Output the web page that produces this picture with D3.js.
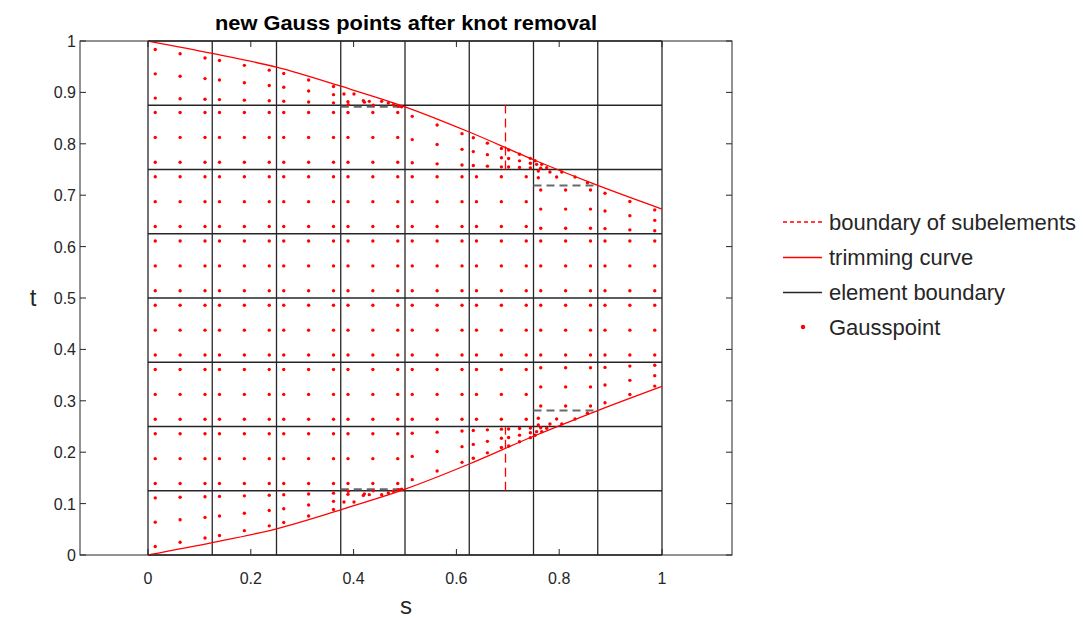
<!DOCTYPE html>
<html>
<head>
<meta charset="utf-8">
<script src="https://d3js.org/d3.v7.min.js"></script>
<style>
  html, body { margin: 0; padding: 0; background: #fff; }
  svg { display: block; font-family: "Liberation Sans", Arial, sans-serif; }
</style>
</head>
<body>
<svg id="chart" width="1083" height="619"></svg>
<script>
// knot vectors in s and t (element boundaries)
const knots = [0, 0.125, 0.25, 0.375, 0.5, 0.625, 0.75, 0.875, 1];

// Gauss abscissae along one parameter direction, three per knot span
const gaussLine = [0.0141, 0.0625, 0.1109, 0.1391, 0.1875, 0.2359, 0.2641, 0.3125, 0.3609,
                   0.3891, 0.4375, 0.4859, 0.5141, 0.5625, 0.6109, 0.6391, 0.6875, 0.7359,
                   0.7641, 0.8125, 0.8609, 0.8891, 0.9375, 0.9859];

// untrimmed elements: for each element row (bottom to top) the first and last element column
const fullElements = [null, [0, 3], [0, 5], [0, 7], [0, 7], [0, 5], [0, 3], null];

// trimming curves t(s) sampled at the knots
const lowerCurveT = [0, 0.024, 0.051, 0.088, 0.128, 0.177, 0.231, 0.281, 0.328];
const upperCurveT = [1, 0.976, 0.949, 0.912, 0.872, 0.823, 0.769, 0.719, 0.673];

// Gauss points of trimmed elements / sub-elements along the lower curve
const lowerTrimPoints = [
  [.0141,.0165],[.0141,.0639],[.0141,.1111],[.0625,.0247],[.0625,.0685],[.0625,.1123],[.1109,.0330],[.1109,.0732],[.1109,.1133],
  [.1391,.0380],[.1391,.0760],[.1391,.1140],[.1875,.0474],[.1875,.0813],[.1875,.1151],[.2359,.0567],[.2359,.0865],[.2359,.1163],
  [.2641,.0631],[.2641,.0901],[.2641,.1171],[.3125,.0758],[.3125,.0973],[.3125,.1187],[.3609,.0884],[.3609,.1044],[.3609,.1203],
  [.3813,.1031],[.4008,.1031],[.3897,.1239],[.3890,.1180],[.4190,.1160],[.4210,.1190],[.4305,.1174],[.4383,.1251],[.4546,.1174],
  [.4676,.1206],[.4773,.1239],[.4870,.1270],[.4935,.1280],
  [.5141,.1466],[.5141,.1918],[.5141,.2369],[.5625,.1635],[.5625,.2013],[.5625,.2390],[.6109,.1803],[.6109,.2108],[.6109,.2412],
  [.6329,.1882],[.6329,.2152],[.6329,.2422],[.6603,.1987],[.6603,.2211],[.6603,.2435],[.6876,.2092],[.6876,.2270],[.6876,.2448],
  [.7016,.2120],[.7016,.2286],[.7016,.2452],[.7228,.2202],[.7228,.2332],[.7228,.2462],[.7439,.2283],[.7439,.2378],[.7439,.2472],
  [.7530,.2330],[.7560,.2400],[.7594,.2530],[.7594,.2660],[.7640,.2477],[.7660,.2400],[.7757,.2465],[.7820,.2550],[.7950,.2646],
  [.8050,.2549],[.8307,.2646],[.8550,.2757],
  [.7641,.2898],[.7641,.3270],[.7641,.3642],[.8125,.2898],[.8125,.3270],[.8125,.3642],[.8609,.2898],[.8609,.3270],[.8609,.3642],
  [.8891,.2963],[.8891,.3307],[.8891,.3650],[.9375,.3124],[.9375,.3398],[.9375,.3675],[.9859,.3286],[.9859,.3489],[.9859,.3691]
];

// Gauss points of trimmed elements / sub-elements along the upper curve
const upperTrimPoints = [
  [.0141,.9835],[.0141,.9361],[.0141,.8889],[.0625,.9753],[.0625,.9315],[.0625,.8877],[.1109,.9670],[.1109,.9268],[.1109,.8867],
  [.1391,.9620],[.1391,.9240],[.1391,.8860],[.1875,.9526],[.1875,.9187],[.1875,.8849],[.2359,.9433],[.2359,.9135],[.2359,.8837],
  [.2641,.9369],[.2641,.9099],[.2641,.8829],[.3125,.9242],[.3125,.9027],[.3125,.8813],[.3609,.9116],[.3609,.8956],[.3609,.8797],
  [.3813,.8969],[.4008,.8969],[.3897,.8761],[.3890,.8820],[.4190,.8840],[.4210,.8810],[.4305,.8826],[.4383,.8749],[.4546,.8826],
  [.4676,.8794],[.4773,.8761],[.4870,.8730],[.4935,.8720],
  [.5141,.8534],[.5141,.8082],[.5141,.7631],[.5625,.8365],[.5625,.7987],[.5625,.7610],[.6109,.8197],[.6109,.7892],[.6109,.7588],
  [.6329,.8118],[.6329,.7848],[.6329,.7578],[.6603,.8013],[.6603,.7789],[.6603,.7565],[.6876,.7908],[.6876,.7730],[.6876,.7552],
  [.7016,.7880],[.7016,.7714],[.7016,.7548],[.7228,.7798],[.7228,.7668],[.7228,.7538],[.7439,.7717],[.7439,.7622],[.7439,.7528],
  [.7530,.7670],[.7560,.7600],[.7594,.7470],[.7594,.7340],[.7640,.7523],[.7660,.7600],[.7757,.7535],[.7820,.7450],[.7950,.7354],
  [.8050,.7451],[.8307,.7354],[.8550,.7243],
  [.7641,.7102],[.7641,.6730],[.7641,.6358],[.8125,.7102],[.8125,.6730],[.8125,.6358],[.8609,.7102],[.8609,.6730],[.8609,.6358],
  [.8891,.7037],[.8891,.6693],[.8891,.6350],[.9375,.6876],[.9375,.6602],[.9375,.6325],[.9859,.6714],[.9859,.6511],[.9859,.6309]
];

// sub-element boundaries (red dashed) and removed-knot lines (grey dashed)
const subBoundaries = [
  [[0.6955, 0.125], [0.6955, 0.25]],
  [[0.6955, 0.75], [0.6955, 0.875]]
];
const removedKnotLines = [
  [[0.375, 0.128], [0.5, 0.128]],
  [[0.375, 0.872], [0.5, 0.872]],
  [[0.75, 0.281], [0.875, 0.281]],
  [[0.75, 0.719], [0.875, 0.719]]
];

const xTicks = [0, 0.2, 0.4, 0.6, 0.8, 1];
const yTicks = [0, 0.1, 0.2, 0.3, 0.4, 0.5, 0.6, 0.7, 0.8, 0.9, 1];
const legendItems = ["boundary of subelements", "trimming curve", "element boundary", "Gausspoint"];

const titleText = "new Gauss points after knot removal";
const axisColor = "#262626";
const red = "#ff0000";

const svg = d3.select("#chart");
const box = { left: 80, right: 732, top: 41, bottom: 555 };

const x = d3.scaleLinear().domain([-0.1323, 1.1362]).range([box.left, box.right]);
const y = d3.scaleLinear().domain([0, 1]).range([box.bottom, box.top]);

const plot = svg.append("g");

// element boundaries
const gridColor = "#262626";
plot.append("g").selectAll("line").data(knots).join("line")
  .attr("x1", d => x(d)).attr("x2", d => x(d))
  .attr("y1", y(0)).attr("y2", y(1))
  .attr("stroke", gridColor).attr("stroke-width", 1.3);
plot.append("g").selectAll("line").data(knots).join("line")
  .attr("y1", d => y(d)).attr("y2", d => y(d))
  .attr("x1", x(0)).attr("x2", x(1))
  .attr("stroke", gridColor).attr("stroke-width", 1.3);

// lines of the removed knots
const seg = d3.line().x(d => x(d[0])).y(d => y(d[1]));
plot.append("g").selectAll("path").data(removedKnotLines).join("path")
  .attr("d", seg).attr("fill", "none")
  .attr("stroke", "#6a6a6a").attr("stroke-width", 2).attr("stroke-dasharray", "8,5");

// Gauss points: untrimmed elements, then trimmed ones
const gaussPoints = [];
fullElements.forEach((range, r) => {
  if (!range) return;
  for (let c = range[0]; c <= range[1]; c++) {
    for (let i = 0; i < 3; i++) {
      for (let j = 0; j < 3; j++) {
        gaussPoints.push([gaussLine[3 * c + i], gaussLine[3 * r + j]]);
      }
    }
  }
});
lowerTrimPoints.forEach(p => gaussPoints.push(p));
upperTrimPoints.forEach(p => gaussPoints.push(p));

plot.append("g").selectAll("circle").data(gaussPoints).join("circle")
  .attr("cx", d => x(d[0])).attr("cy", d => y(d[1]))
  .attr("r", 1.7).attr("fill", red);

// trimming curves
const curveLine = d3.line().x(d => x(d[0])).y(d => y(d[1])).curve(d3.curveMonotoneX);
[lowerCurveT, upperCurveT].forEach(ts => {
  plot.append("path")
    .datum(knots.map((s, i) => [s, ts[i]]))
    .attr("d", curveLine).attr("fill", "none")
    .attr("stroke", red).attr("stroke-width", 1.3);
});

// sub-element boundaries
plot.append("g").selectAll("path").data(subBoundaries).join("path")
  .attr("d", seg).attr("fill", "none")
  .style("stroke", red).attr("stroke-width", 1.3).attr("stroke-dasharray", "9,5");

// axes box with inward ticks
const axes = svg.append("g").attr("fill", "none").attr("stroke", axisColor).attr("stroke-width", 1);
axes.append("rect")
  .attr("x", box.left).attr("y", box.top)
  .attr("width", box.right - box.left).attr("height", box.bottom - box.top);
const tickLen = 6;
xTicks.forEach(v => {
  axes.append("line").attr("x1", x(v)).attr("x2", x(v)).attr("y1", box.bottom).attr("y2", box.bottom - tickLen);
  axes.append("line").attr("x1", x(v)).attr("x2", x(v)).attr("y1", box.top).attr("y2", box.top + tickLen);
});
yTicks.forEach(v => {
  axes.append("line").attr("y1", y(v)).attr("y2", y(v)).attr("x1", box.left).attr("x2", box.left + tickLen);
  axes.append("line").attr("y1", y(v)).attr("y2", y(v)).attr("x1", box.right).attr("x2", box.right - tickLen);
});

// tick labels
svg.append("g").selectAll("text").data(xTicks).join("text")
  .attr("x", d => x(d)).attr("y", box.bottom + 29)
  .attr("text-anchor", "middle").attr("font-size", 16).attr("fill", axisColor)
  .text(d => d3.format("~g")(d));
svg.append("g").selectAll("text").data(yTicks).join("text")
  .attr("x", box.left - 4).attr("y", d => y(d) + 6)
  .attr("text-anchor", "end").attr("font-size", 16).attr("fill", axisColor)
  .text(d => d3.format("~g")(d));

// axis labels
svg.append("text").attr("x", (box.left + box.right) / 2).attr("y", 614)
  .attr("text-anchor", "middle").attr("font-size", 24).attr("fill", axisColor).text("s");
svg.append("text").attr("x", 33).attr("y", 306)
  .attr("text-anchor", "middle").attr("font-size", 24).attr("fill", axisColor).text("t");

// title
svg.append("text").attr("x", (box.left + box.right) / 2).attr("y", 30)
  .attr("text-anchor", "middle").attr("font-size", 20).attr("font-weight", "bold")
  .attr("textLength", 382).attr("lengthAdjust", "spacingAndGlyphs")
  .attr("fill", "#000").text(titleText);

// legend
const legend = svg.append("g");
const rowY = [222, 257.5, 292.5, 327];
const lx0 = 783, lx1 = 822, tx = 829;
const legendStyles = [
  { stroke: red, dash: "4,3" },
  { stroke: red, dash: null },
  { stroke: gridColor, dash: null },
  null
];
legendItems.forEach((label, i) => {
  const g = legend.append("g");
  const st = legendStyles[i];
  if (st) {
    g.append("line").attr("x1", lx0).attr("x2", lx1).attr("y1", rowY[i]).attr("y2", rowY[i])
      .style("stroke", st.stroke).attr("stroke-width", 1.3)
      .attr("stroke-dasharray", st.dash);
  } else {
    g.append("circle").attr("cx", 803).attr("cy", rowY[i]).attr("r", 2.2).attr("fill", red);
  }
  g.append("text").attr("x", tx).attr("y", rowY[i] + 7.5)
    .attr("font-size", 22).attr("fill", axisColor).text(label);
});
</script>
</body>
</html>
